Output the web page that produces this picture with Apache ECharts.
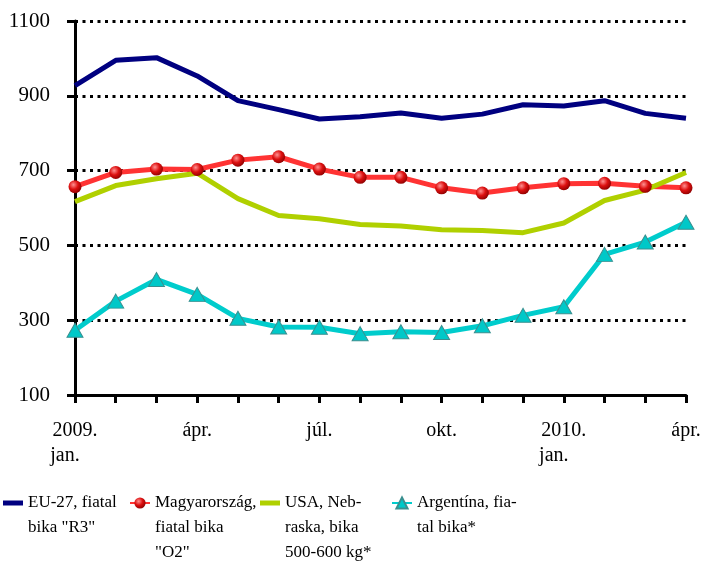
<!DOCTYPE html>
<html>
<head>
<meta charset="utf-8">
<script src="https://cdn.jsdelivr.net/npm/echarts@6/dist/echarts.min.js"></script>
<style>
html, body { margin: 0; padding: 0; background: #fff; }
#chartmain { width: 707px; height: 565px; }
</style>
</head>
<body>
<div id="chartmain"></div>
<script>
var months = ['2009.\njan.', 'febr.', 'márc.', 'ápr.', 'máj.', 'jún.', 'júl.', 'aug.',
    'szept.', 'okt.', 'nov.', 'dec.', '2010.\njan.', 'febr.', 'márc.', 'ápr.'];
var yTicks = [100, 300, 500, 700, 900, 1100];
var seriesNames = ['EU-27, fiatal\nbika "R3"', 'Magyarország,\nfiatal bika\n"O2"',
    'USA, Neb-\nraska, bika\n500-600 kg*', 'Argentína, fia-\ntal bika*'];
var eu27 = [927, 995, 1002, 953, 887, 863, 838, 844, 854, 840, 851, 876, 873, 887, 853, 840];
var magyar = [657, 695, 704, 703, 728, 737, 704, 682, 682, 654, 640, 654, 665, 666, 658, 654];
var usa = [617, 660, 678, 693, 625, 580, 571, 556, 552, 542, 540, 534, 560, 620, 648, 695];
var argentina = [273, 351, 409, 369, 305, 282, 281, 264, 269, 267, 285, 313, 336, 476, 509, 562];

(function() {

var font = 'Liberation Serif';
var lh = 25;

// legend text: pad with blank lines above so the first line sits level with the icon
function makeLegend(name, left, icon, iconH) {
    var n = name.split('\n').length;
    var H = (2 * n - 1) * lh;
    var item = { name: name };
    if (icon) item.icon = icon;
    return {
        data: [item],
        left: left,
        top: 503 - H / 2,
        padding: 0,
        itemWidth: 20,
        itemHeight: iconH || 14,
        itemGap: 0,
        formatter: function(t) {
            var pad = '';
            for (var i = 1; i < n; i++) pad += ' \n';
            return pad + t;
        },
        textStyle: {
            fontFamily: font,
            fontSize: 17,
            color: '#000',
            lineHeight: lh
        }
    };
}

var sphere = {
    type: 'radial', x: 0.38, y: 0.35, r: 0.7,
    colorStops: [{ offset: 0, color: '#ff9090' }, { offset: 0.5, color: '#dd1010' }, { offset: 1, color: '#8a0000' }]
};

var option = {
    animation: false,
    backgroundColor: '#fff',
    grid: { left: 75, right: 21, top: 21, bottom: 170 },
    legend: [
        makeLegend(seriesNames[0], 3, 'rect', 5),
        makeLegend(seriesNames[1], 129),
        makeLegend(seriesNames[2], 260, 'rect', 5),
        makeLegend(seriesNames[3], 391)
    ],
    xAxis: {
        type: 'category',
        boundaryGap: false,
        data: months,
        axisLine: { lineStyle: { color: '#000', width: 3 } },
        axisTick: { show: true, inside: false, length: 8, interval: 0, lineStyle: { color: '#000', width: 3 } },
        axisLabel: {
            interval: 2,
            margin: 23,
            formatter: function(v) {
                var p = v.split('\n');
                return p.length > 1 ? '{a|' + p[0] + '}\n{b|' + p[1] + '}' : '{a|' + v + '}';
            },
            rich: {
                a: { fontFamily: font, fontSize: 20, color: '#000', lineHeight: lh },
                b: { fontFamily: font, fontSize: 20, color: '#000', lineHeight: lh, padding: [0, 20, 0, 0] }
            }
        },
        splitLine: { show: false }
    },
    yAxis: {
        type: 'value',
        min: yTicks[0],
        max: yTicks[yTicks.length - 1],
        interval: 200,
        axisLine: { show: true, lineStyle: { color: '#000', width: 3 } },
        axisTick: { show: true, length: 8, lineStyle: { color: '#000', width: 3 } },
        axisLabel: {
            fontFamily: font, fontSize: 21, color: '#000', margin: 25,
            formatter: function(v) { return String(v); }
        },
        splitLine: { show: true, lineStyle: { color: '#000', width: 3, type: [3, 4.5] } }
    },
    series: [{
        name: seriesNames[0],
        type: 'line',
        data: eu27,
        symbol: 'none',
        lineStyle: { color: '#000080', width: 5 },
        itemStyle: { color: '#000080' }
    }, {
        name: seriesNames[1],
        type: 'line',
        data: magyar,
        symbol: 'circle',
        symbolSize: 13,
        lineStyle: { color: '#ff3333', width: 5 },
        itemStyle: { color: sphere, borderWidth: 0 }
    }, {
        name: seriesNames[2],
        type: 'line',
        data: usa,
        symbol: 'none',
        lineStyle: { color: '#b0d000', width: 5 },
        itemStyle: { color: '#b0d000' }
    }, {
        name: seriesNames[3],
        type: 'line',
        data: argentina,
        symbol: 'triangle',
        symbolSize: [16, 14],
        lineStyle: { color: '#00cccc', width: 5 },
        itemStyle: { color: '#00c8c8', borderColor: '#3a8f8f', borderWidth: 1 }
    }]
};

var myChart = echarts.init(document.getElementById('chartmain'));
myChart.setOption(option);

})();
</script>
</body>
</html>
